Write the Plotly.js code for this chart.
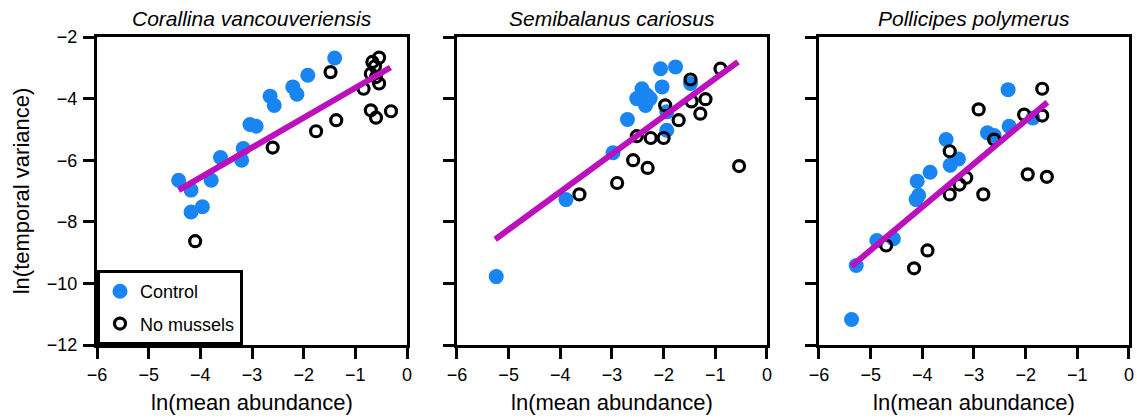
<!DOCTYPE html>
<html>
<head>
<meta charset="utf-8">
<script src="https://cdn.plot.ly/plotly-3.0.1.min.js"></script>
<style>html,body{margin:0;padding:0;background:#fff;}#chart{width:1137px;height:419px;}</style>
</head>
<body>
<div id="chart"></div>
<script>
// ---- Data ----
const panelTitles = ["Corallina vancouveriensis", "Semibalanus cariosus", "Pollicipes polymerus"];
const seriesNames = ["Control", "No mussels"];
const xTickVals = [-6, -5, -4, -3, -2, -1, 0];
const xTickText = ["\u22126", "\u22125", "\u22124", "\u22123", "\u22122", "\u22121", "0"];
const yTickVals = [-12, -10, -8, -6, -4, -2];
const yTickText = ["\u221212", "\u221210", "\u22128", "\u22126", "\u22124", "\u22122"];

// Panel 1: Corallina vancouveriensis
const ctrlX1 = [-4.42, -4.18, -4.18, -3.96, -3.79, -3.61, -3.20, -3.17, -3.04, -2.92, -2.65, -2.57, -2.21, -2.13, -1.92, -1.40];
const ctrlY1 = [-6.65, -6.97, -7.68, -7.51, -6.65, -5.91, -6.00, -5.62, -4.84, -4.90, -3.92, -4.22, -3.62, -3.86, -3.24, -2.68];
const noX1 = [-4.10, -2.60, -1.76, -1.37, -1.48, -0.84, -0.70, -0.67, -0.54, -0.54, -0.60, -0.70, -0.60, -0.31, -0.62];
const noY1 = [-8.63, -5.59, -5.06, -4.70, -3.14, -3.68, -3.19, -2.81, -2.67, -3.51, -3.30, -4.38, -4.62, -4.41, -2.95];
const fitX1 = [-4.42, -0.32];
const fitY1 = [-6.97, -2.99];

// Panel 2: Semibalanus cariosus
const ctrlX2 = [-5.24, -3.89, -2.98, -2.70, -2.52, -2.42, -2.35, -2.26, -2.06, -2.03, -1.77, -1.94, -1.94, -1.48, -2.32];
const ctrlY2 = [-9.78, -7.28, -5.76, -4.68, -4.00, -3.68, -4.22, -4.00, -3.03, -3.62, -2.97, -4.43, -5.03, -3.51, -3.89];
const noX2 = [-3.63, -2.90, -2.59, -2.31, -2.52, -2.25, -2.00, -1.97, -1.71, -1.48, -1.46, -1.29, -1.19, -0.90, -0.54];
const noY2 = [-7.11, -6.74, -6.00, -6.25, -5.22, -5.28, -5.28, -4.22, -4.70, -3.38, -4.09, -4.49, -4.02, -3.03, -6.19];
const fitX2 = [-5.26, -0.56];
const fitY2 = [-8.57, -2.81];

// Panel 3: Pollicipes polymerus
const ctrlX3 = [-5.37, -5.28, -4.88, -4.56, -4.12, -4.07, -4.10, -3.85, -3.54, -3.46, -3.30, -2.74, -2.61, -2.34, -2.32, -1.86];
const ctrlY3 = [-11.17, -9.42, -8.61, -8.55, -7.28, -7.14, -6.68, -6.39, -5.33, -6.16, -5.96, -5.11, -5.20, -3.71, -4.90, -4.63];
const noX3 = [-4.70, -4.16, -3.90, -3.47, -3.47, -3.28, -3.15, -2.91, -2.82, -2.61, -2.03, -1.96, -1.68, -1.68, -1.59];
const noY3 = [-8.77, -9.51, -8.93, -5.71, -7.11, -6.79, -6.57, -4.35, -7.11, -5.33, -4.52, -6.46, -3.68, -4.55, -6.54];
const fitX3 = [-5.37, -1.58];
const fitY3 = [-9.44, -4.12];

// ---- Styling ----
const BLUE = "#1985f2";
const MAG = "#bb10bb";
const FONT = "Liberation Sans, Arial, Helvetica, sans-serif";

const panels = [
  {cx: ctrlX1, cy: ctrlY1, nx: noX1, ny: noY1, fx: fitX1, fy: fitY1},
  {cx: ctrlX2, cy: ctrlY2, nx: noX2, ny: noY2, fx: fitX2, fy: fitY2},
  {cx: ctrlX3, cy: ctrlY3, nx: noX3, ny: noY3, fx: fitX3, fy: fitY3}
];

const traces = [];
panels.forEach((p, i) => {
  const xa = i === 0 ? "x" : "x" + (i + 1);
  const ya = i === 0 ? "y" : "y" + (i + 1);
  traces.push({
    type: "scatter", mode: "markers", x: p.cx, y: p.cy, xaxis: xa, yaxis: ya,
    name: seriesNames[0], legendgroup: "c", showlegend: i === 0,
    marker: {color: BLUE, size: 15, line: {width: 0}}
  });
  traces.push({
    type: "scatter", mode: "markers", x: p.nx, y: p.ny, xaxis: xa, yaxis: ya,
    name: seriesNames[1], legendgroup: "n", showlegend: i === 0,
    marker: {symbol: "circle-open", color: "#000", size: 11, line: {width: 3.2, color: "#000"}}
  });
  traces.push({
    type: "scatter", mode: "lines", x: p.fx, y: p.fy, xaxis: xa, yaxis: ya,
    showlegend: false, hoverinfo: "skip",
    line: {color: MAG, width: 6}
  });
});

const domains = [[0, 0.3004], [0.3488, 0.6492], [0.6996, 1.0]];

function xAxis(i) {
  return {
    domain: domains[i], range: [-6, 0], anchor: i === 0 ? "y" : "y" + (i + 1),
    tickmode: "array", tickvals: xTickVals, ticktext: xTickText,
    ticks: "outside", ticklen: 11, tickwidth: 3, tickcolor: "#000",
    showline: true, linewidth: 3, linecolor: "#000", mirror: true,
    showgrid: false, zeroline: false,
    tickfont: {family: FONT, size: 18, color: "#000"},
    ticklabelstandoff: 0,
    title: {text: "ln(mean abundance)", font: {family: FONT, size: 22, color: "#000"}, standoff: 12}
  };
}
function yAxis(i) {
  return {
    domain: [0, 1], range: [-12, -2], anchor: i === 0 ? "x" : "x" + (i + 1),
    tickmode: "array", tickvals: yTickVals, ticktext: yTickText,
    ticks: "outside", ticklen: 11, tickwidth: 3, tickcolor: "#000",
    showline: true, linewidth: 3, linecolor: "#000", mirror: true,
    showgrid: false, zeroline: false,
    showticklabels: i === 0,
    tickfont: {family: FONT, size: 18, color: "#000"},
    ticklabelstandoff: 2,
    title: i === 0 ? {text: "ln(temporal variance)", font: {family: FONT, size: 22, color: "#000"}, standoff: 12} : {text: ""}
  };
}

const layout = {
  width: 1137, height: 419,
  margin: {l: 97, r: 8, t: 37, b: 74, autoexpand: false},
  paper_bgcolor: "#fff", plot_bgcolor: "#fff",
  showlegend: true,
  legend: {
    x: 0, y: 0, xanchor: "left", yanchor: "bottom",
    bordercolor: "#000", borderwidth: 3, bgcolor: "#fff",
    font: {family: FONT, size: 18, color: "#000"},
    traceorder: "grouped", tracegroupgap: 6, itemwidth: 30
  },
  annotations: panelTitles.map((t, i) => ({
    text: t, xref: (i === 0 ? "x" : "x" + (i + 1)) + " domain", x: 0.5,
    yref: "paper", y: 1, yanchor: "bottom", yshift: 5, showarrow: false,
    font: {family: FONT, size: 21, color: "#000", style: "italic"}
  }))
};
for (let i = 0; i < 3; i++) {
  layout[i === 0 ? "xaxis" : "xaxis" + (i + 1)] = xAxis(i);
  layout[i === 0 ? "yaxis" : "yaxis" + (i + 1)] = yAxis(i);
}

Plotly.newPlot("chart", traces, layout, {displayModeBar: false, staticPlot: true});
</script>
</body>
</html>
